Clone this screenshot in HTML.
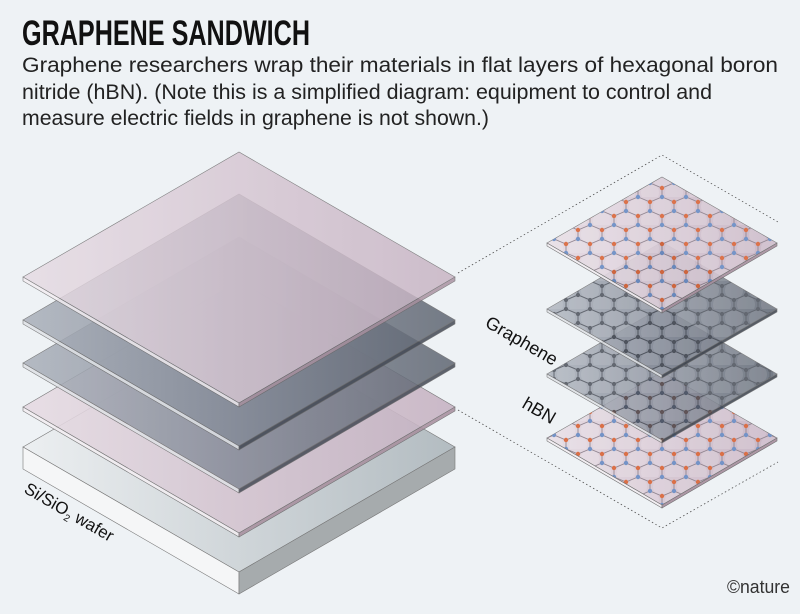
<!DOCTYPE html>
<html><head><meta charset="utf-8"><style>
html,body{margin:0;padding:0;background:#eef2f5;}
svg{display:block;}
</style></head><body>
<svg width="800" height="614" viewBox="0 0 800 614" xmlns="http://www.w3.org/2000/svg">
<defs>
<linearGradient id="pink" x1="0" x2="1" y1="0" y2="0"><stop offset="0" stop-color="#e6dbe3"/><stop offset="0.5" stop-color="#d6c6d2"/><stop offset="1" stop-color="#c6b2c2"/></linearGradient>
<linearGradient id="gray" x1="0" x2="1" y1="0" y2="0"><stop offset="0" stop-color="#aab0ba"/><stop offset="0.5" stop-color="#858b98"/><stop offset="1" stop-color="#5f6672"/></linearGradient>
<linearGradient id="wafer" x1="0" x2="1" y1="0" y2="0"><stop offset="0" stop-color="#eceff1"/><stop offset="1" stop-color="#b3bcc1"/></linearGradient>
<pattern id="hbn" patternUnits="userSpaceOnUse" width="24" height="28" x="2" y="1">
<circle cx="12" cy="9.5" r="9" fill="#fff" fill-opacity="0.15"/><circle cx="0" cy="23.5" r="9" fill="#fff" fill-opacity="0.15"/><circle cx="24" cy="23.5" r="9" fill="#fff" fill-opacity="0.15"/>
<path d="M12,0 L24,5 L24,14 L12,19 L0,14 L0,5 Z M12,19 L12,28" fill="none" stroke="#8a7d89" stroke-width="0.9"/>
<circle cx="24" cy="5" r="2.2" fill="#d9663a"/><circle cx="0" cy="5" r="2.2" fill="#d9663a"/><circle cx="12" cy="19" r="2.2" fill="#d9663a"/>
<circle cx="12" cy="0" r="2.2" fill="#6a8cc4"/><circle cx="12" cy="28" r="2.2" fill="#6a8cc4"/><circle cx="24" cy="14" r="2.2" fill="#6a8cc4"/><circle cx="0" cy="14" r="2.2" fill="#6a8cc4"/>
</pattern>
<pattern id="gr" patternUnits="userSpaceOnUse" width="24" height="28" x="2" y="1">
<circle cx="12" cy="9.5" r="9" fill="#fff" fill-opacity="0.1"/><circle cx="0" cy="23.5" r="9" fill="#fff" fill-opacity="0.1"/><circle cx="24" cy="23.5" r="9" fill="#fff" fill-opacity="0.1"/>
<path d="M12,0 L24,5 L24,14 L12,19 L0,14 L0,5 Z M12,19 L12,28" fill="none" stroke="#4b505a" stroke-width="1"/>
<circle cx="24" cy="5" r="2.1" fill="#4b505a"/><circle cx="0" cy="5" r="2.1" fill="#4b505a"/><circle cx="12" cy="19" r="2.1" fill="#4b505a"/>
<circle cx="12" cy="0" r="2.1" fill="#4b505a"/><circle cx="12" cy="28" r="2.1" fill="#4b505a"/><circle cx="24" cy="14" r="2.1" fill="#4b505a"/><circle cx="0" cy="14" r="2.1" fill="#4b505a"/>
</pattern>
</defs>

<text x="22" y="45" font-family="Liberation Sans Narrow, Liberation Sans, sans-serif" font-weight="bold" font-size="35" fill="#111" textLength="288" lengthAdjust="spacingAndGlyphs">GRAPHENE SANDWICH</text>
<g font-family="Liberation Sans, sans-serif" font-size="21" fill="#222">
<text x="22" y="72" textLength="756" lengthAdjust="spacingAndGlyphs">Graphene researchers wrap their materials in flat layers of hexagonal boron</text>
<text x="22" y="99" textLength="690" lengthAdjust="spacingAndGlyphs">nitride (hBN). (Note this is a simplified diagram: equipment to control and</text>
<text x="22" y="125" textLength="467" lengthAdjust="spacingAndGlyphs">measure electric fields in graphene is not shown.)</text>
</g>

<g fill="none" stroke="#555" stroke-width="0.8" stroke-dasharray="1.5,2.5">
<path d="M458,273 L662,155 L778,222"/>
<path d="M458,410 L662,528 L778,462"/>
</g>

<polygon points="23,447 239,322 455,447 239,572" fill="url(#wafer)" stroke="#777" stroke-width="0.6"/>
<polygon points="23,447 239,572 239,594 23,469" fill="#f5f6f7" stroke="#777" stroke-width="0.6"/>
<polygon points="239,572 455,447 455,469 239,594" fill="#a6abad" stroke="#777" stroke-width="0.6"/>

<g stroke="#666" stroke-width="0.6">
<g opacity="0.88">
<polygon points="23,407 239,281 455,407 239,533" fill="url(#pink)"/>
<polygon points="23,407 239,533 239,537 23,411" fill="#f3eef2"/>
<polygon points="239,533 455,407 455,411 239,537" fill="#a8909f"/>
</g>
<g opacity="0.85">
<polygon points="23,363 239,237 455,363 239,489" fill="url(#gray)"/>
<polygon points="23,363 239,489 239,493 23,367" fill="#dfe2e6"/>
<polygon points="239,489 455,363 455,367 239,493" fill="#444a55"/>
</g>
<g opacity="0.85">
<polygon points="23,320 239,194 455,320 239,446" fill="url(#gray)"/>
<polygon points="23,320 239,446 239,450 23,324" fill="#dfe2e6"/>
<polygon points="239,446 455,320 455,324 239,450" fill="#444a55"/>
</g>
<g opacity="0.82">
<polygon points="23,277 239,152 455,277 239,403" fill="url(#pink)"/>
<polygon points="23,277 239,403 239,407 23,281" fill="#f3eef2"/>
<polygon points="239,403 455,277 455,281 239,407" fill="#a8909f"/>
</g>
</g>

<g stroke="#666" stroke-width="0.6">
<g opacity="0.92">
<polygon points="547,438 662,372 777,438 662,505" fill="url(#pink)"/>
<polygon points="547,438 662,372 777,438 662,505" fill="url(#hbn)" stroke="none"/>
<polygon points="547,438 662,505 662,508 547,441" fill="#f3eef2"/>
<polygon points="662,505 777,438 777,441 662,508" fill="#a8909f"/>
</g>
<g opacity="0.85">
<polygon points="547,374 662,307 777,374 662,440" fill="url(#gray)"/>
<polygon points="547,374 662,307 777,374 662,440" fill="url(#gr)" stroke="none"/>
<polygon points="547,374 662,440 662,443 547,377" fill="#dfe2e6"/>
<polygon points="662,440 777,374 777,377 662,443" fill="#3c424c"/>
</g>
<g opacity="0.85">
<polygon points="547,309 662,242 777,309 662,375" fill="url(#gray)"/>
<polygon points="547,309 662,242 777,309 662,375" fill="url(#gr)" stroke="none"/>
<polygon points="547,309 662,375 662,378 547,312" fill="#dfe2e6"/>
<polygon points="662,375 777,309 777,312 662,378" fill="#3c424c"/>
</g>
<g opacity="0.9">
<polygon points="547,243 662,177 777,243 662,310" fill="url(#pink)"/>
<polygon points="547,243 662,177 777,243 662,310" fill="url(#hbn)" stroke="none"/>
<polygon points="547,243 662,310 662,313 547,246" fill="#f3eef2"/>
<polygon points="662,310 777,243 777,246 662,313" fill="#a8909f"/>
</g>
</g>

<g font-family="Liberation Sans, sans-serif" fill="#111">
<text x="0" y="0" font-size="18" transform="translate(484,326) rotate(30)">Graphene</text>
<text x="0" y="0" font-size="18" transform="translate(521,407) rotate(30)">hBN</text>
<text x="0" y="0" font-size="17" transform="translate(23,492) rotate(30)">Si/SiO<tspan font-size="10" dy="4">2</tspan><tspan dy="-4"> wafer</tspan></text>
<text x="727" y="593" font-size="18" fill="#333" textLength="63" lengthAdjust="spacingAndGlyphs">©nature</text>
</g>
</svg>
</body></html>
